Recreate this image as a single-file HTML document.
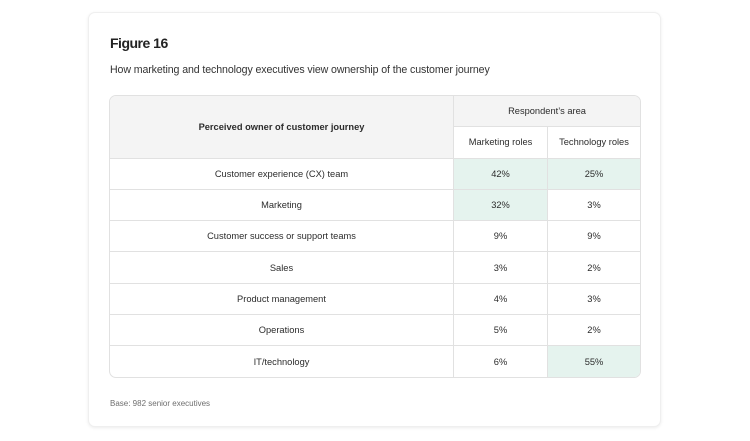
<!DOCTYPE html>
<html><head><meta charset="utf-8"><style>
html,body{margin:0;padding:0;background:#fff;width:750px;height:441px;overflow:hidden;font-family:"Liberation Sans",Arial,sans-serif;color:#2c2c2c;}
.card{position:absolute;left:88px;top:12px;width:573px;height:415px;border:1px solid #efefef;border-radius:7px;box-shadow:0 1px 3px rgba(0,0,0,0.08);background:#fff;box-sizing:border-box;}
.title{position:absolute;left:110px;top:35px;font-size:14px;font-weight:bold;letter-spacing:-0.5px;color:#222;}
.sub{position:absolute;left:110px;top:64px;font-size:10.6px;color:#333;letter-spacing:-0.1px;}
.base{position:absolute;left:110px;top:399px;font-size:8px;color:#6e6e6e;}
table{position:absolute;left:109px;top:95px;width:532px;border-collapse:separate;border-spacing:0;border:1px solid #e1e1e1;border-radius:7px;overflow:hidden;font-size:9.3px;}
td,th{text-align:center;border-right:1px solid #e1e1e1;border-bottom:1px solid #e1e1e1;padding:0;height:30.3px;font-weight:normal;}
tr td:last-child, tr th:last-child{border-right:none;}
tr:last-child td{border-bottom:none;}
th{background:#f4f4f4;}
th.own{font-weight:bold;width:343px;}
th.sub2{background:#fff;}
td.c1{width:93px;}
.g{background:#e5f3ee;}
</style></head><body>
<div class="card"></div>
<div class="title">Figure 16</div>
<div class="sub">How marketing and technology executives view ownership of the customer journey</div>
<table>
<tr><th class="own" rowspan="2">Perceived owner of customer journey</th><th colspan="2">Respondent’s area</th></tr>
<tr><th class="sub2">Marketing roles</th><th class="sub2">Technology roles</th></tr>
<tr><td>Customer experience (CX) team</td><td class="c1 g">42%</td><td class="g">25%</td></tr>
<tr><td>Marketing</td><td class="c1 g">32%</td><td>3%</td></tr>
<tr><td>Customer success or support teams</td><td class="c1">9%</td><td>9%</td></tr>
<tr><td>Sales</td><td class="c1">3%</td><td>2%</td></tr>
<tr><td>Product management</td><td class="c1">4%</td><td>3%</td></tr>
<tr><td>Operations</td><td class="c1">5%</td><td>2%</td></tr>
<tr><td>IT/technology</td><td class="c1">6%</td><td class="g">55%</td></tr>
</table>
<div class="base">Base: 982 senior executives</div>
</body></html>
